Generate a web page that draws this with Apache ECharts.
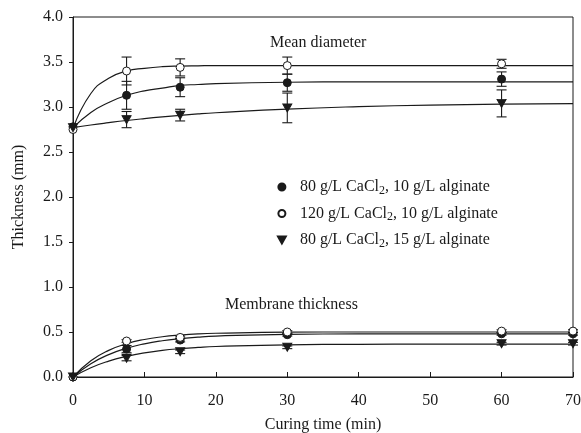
<!DOCTYPE html>
<html>
<head>
<meta charset="utf-8">
<script src="https://cdn.jsdelivr.net/npm/echarts@6/dist/echarts.min.js"></script>
<style>
html, body { margin: 0; padding: 0; background: #fff; }
#main { width: 581px; height: 433px; }
</style>
</head>
<body>
<div id="main"></div>
<script>
// legend names
const names = [
    "80 g/L CaCl2, 10 g/L alginate",
    "120 g/L CaCl2, 10 g/L alginate",
    "80 g/L CaCl2, 15 g/L alginate"
]

// mean diameter points (min, mm) and +/- error
const meanT = [0, 7.5, 15, 30, 60]
const meanA = [2.78, 3.13, 3.22, 3.27, 3.31]
const meanAErr = [0, 0.155, 0.105, 0.095, 0.08]
const meanB = [2.75, 3.40, 3.44, 3.46, 3.48]
const meanBErr = [0, 0.155, 0.095, 0.095, 0.05]
const meanC = [2.77, 2.86, 2.91, 2.99, 3.04]
const meanCErr = [0, 0.09, 0.065, 0.165, 0.15]

// membrane thickness points
const memT = [0, 7.5, 15, 30, 60, 70]
const memA = [0, 0.31, 0.41, 0.47, 0.48, 0.48]
const memAErr = [0, 0.04, 0.02, 0.015, 0.015, 0.015]
const memB = [0, 0.40, 0.44, 0.50, 0.51, 0.51]
const memBErr = [0, 0.015, 0.015, 0.015, 0.015, 0.015]
const memC = [0, 0.21, 0.28, 0.33, 0.37, 0.37]
const memCErr = [0, 0.03, 0.02, 0.015, 0.015, 0.015]

// fitted curves
const fitT = [0, 2.5, 5, 7.5, 10, 12.5, 15, 17.5, 20, 30, 40, 50, 60, 70]
const fitMeanA = [2.77, 2.94, 3.05, 3.13, 3.18, 3.21, 3.24, 3.25, 3.26, 3.275, 3.28, 3.28, 3.28, 3.28]
const fitMeanB = [2.76, 3.15, 3.32, 3.40, 3.43, 3.448, 3.455, 3.458, 3.46, 3.46, 3.46, 3.46, 3.46, 3.46]
const fitMeanC = [2.77, 2.80, 2.826, 2.85, 2.871, 2.89, 2.907, 2.923, 2.936, 2.977, 3.004, 3.021, 3.031, 3.038]
const fitMemA = [0, 0.147, 0.249, 0.32, 0.369, 0.403, 0.426, 0.443, 0.454, 0.474, 0.479, 0.48, 0.48, 0.48]
const fitMemB = [0, 0.181, 0.296, 0.37, 0.417, 0.447, 0.466, 0.479, 0.486, 0.498, 0.5, 0.5, 0.5, 0.5]
const fitMemC = [0, 0.103, 0.177, 0.23, 0.269, 0.296, 0.315, 0.329, 0.339, 0.358, 0.363, 0.365, 0.365, 0.365]

// tick labels
const yTicks = [0, 0.5, 1, 1.5, 2, 2.5, 3, 3.5, 4]
const xTicks = [0, 10, 20, 30, 40, 50, 60, 70]

const FONT = "Liberation Serif"
const INK = "#1a1a1a"

let zip = (xs, ys) => xs.map((x, i) => [x, ys[i]])
let bars = (xs, ys, es) => xs.map((x, i) => [x, ys[i] - es[i], ys[i] + es[i]]).filter(d => d[2] > d[1])

let curve = ys => ({
    type: "line",
    data: zip(fitT, ys),
    smooth: 0.5,
    showSymbol: false,
    silent: true,
    z: 2,
    lineStyle: { color: INK, width: 1.2 }
})

let errSeries = data => ({
    type: "custom",
    data: data,
    silent: true,
    z: 3,
    renderItem: function(params, api){
        let lo = api.coord([api.value(0), api.value(1)])
        let hi = api.coord([api.value(0), api.value(2)])
        let w = 5
        let style = { stroke: INK, lineWidth: 1.1 }
        return {
            type: "group",
            children: [
                { type: "line", shape: { x1: lo[0], y1: lo[1], x2: hi[0], y2: hi[1] }, style: style },
                { type: "line", shape: { x1: lo[0] - w, y1: lo[1], x2: lo[0] + w, y2: lo[1] }, style: style },
                { type: "line", shape: { x1: hi[0] - w, y1: hi[1], x2: hi[0] + w, y2: hi[1] }, style: style }
            ]
        }
    }
})

const triDown = "path://M0,0 L10,0 L5,9 Z"

let marks = (name, symbol, size, data, fill) => ({
    type: "scatter",
    name: name,
    data: data,
    symbol: symbol,
    symbolSize: size,
    z: 4,
    itemStyle: { color: fill, borderColor: INK, borderWidth: 1, opacity: 1 }
})

let chart = echarts.init(document.getElementById("main"), null, { renderer: "canvas" })

let option = {
    animation: false,
    backgroundColor: "#fff",
    grid: { left: 73, right: 8, top: 17, bottom: 56, show: true, borderColor: INK, borderWidth: 1,
        containLabel: false, outerBoundsMode: "none" },
    xAxis: {
        type: "value",
        min: 0, max: 70, interval: 10,
        name: "Curing time (min)",
        nameLocation: "middle",
        nameGap: 40,
        nameTextStyle: { fontFamily: FONT, fontSize: 16, color: INK },
        axisLine: { show: true, lineStyle: { color: INK, width: 1 } },
        axisTick: { show: true, inside: true, length: 5, lineStyle: { color: INK } },
        axisLabel: { fontFamily: FONT, fontSize: 16, color: INK, margin: 16,
            formatter: v => xTicks.includes(v) ? String(v) : "" },
        splitLine: { show: false }
    },
    yAxis: {
        type: "value",
        min: 0, max: 4, interval: 0.5,
        name: "Thickness (mm)",
        nameLocation: "middle",
        nameGap: 46,
        nameTextStyle: { fontFamily: FONT, fontSize: 16, color: INK },
        axisLine: { show: true, lineStyle: { color: INK, width: 1 } },
        axisTick: { show: true, inside: false, length: 4, lineStyle: { color: INK } },
        axisLabel: { fontFamily: FONT, fontSize: 16, color: INK, margin: 10,
            formatter: v => yTicks.includes(v) ? v.toFixed(1) : "" },
        splitLine: { show: false }
    },
    legend: {
        orient: "vertical",
        left: 272,
        top: 174,
        itemWidth: 22,
        itemHeight: 7,
        itemGap: 9,
        selectedMode: false,
        data: [
            { name: names[0], icon: "circle" },
            { name: names[1], icon: "circle" },
            { name: names[2], icon: triDown }
        ],
        formatter: n => n.replace("CaCl2", "CaCl{sub|2}"),
        textStyle: {
            fontFamily: FONT, fontSize: 16, color: INK, padding: [0, 0, 0, 2],
            rich: { sub: { fontFamily: FONT, fontSize: 12, color: INK, padding: [7, 0, 0, 0] } }
        }
    },
    graphic: [
        { type: "text", left: 270, top: 35, style: { text: "Mean diameter", font: "16px " + FONT, fill: INK } },
        { type: "text", left: 225, top: 297, style: { text: "Membrane thickness", font: "16px " + FONT, fill: INK } }
    ],
    series: [
        curve(fitMeanA),
        curve(fitMeanB),
        curve(fitMeanC),
        curve(fitMemA),
        curve(fitMemB),
        curve(fitMemC),
        errSeries(bars(meanT, meanA, meanAErr).concat(bars(memT, memA, memAErr))),
        errSeries(bars(meanT, meanB, meanBErr).concat(bars(memT, memB, memBErr))),
        errSeries(bars(meanT, meanC, meanCErr).concat(bars(memT, memC, memCErr))),
        marks(names[0], "circle", 8, zip(meanT, meanA).concat(zip(memT, memA)), INK),
        marks(names[1], "circle", 8, zip(meanT, meanB).concat(zip(memT, memB)), "#fff"),
        marks(names[2], triDown, [9, 8], zip(meanT, meanC).concat(zip(memT, memC)), INK)
    ]
}
chart.setOption(option)
</script>
</body>
</html>
